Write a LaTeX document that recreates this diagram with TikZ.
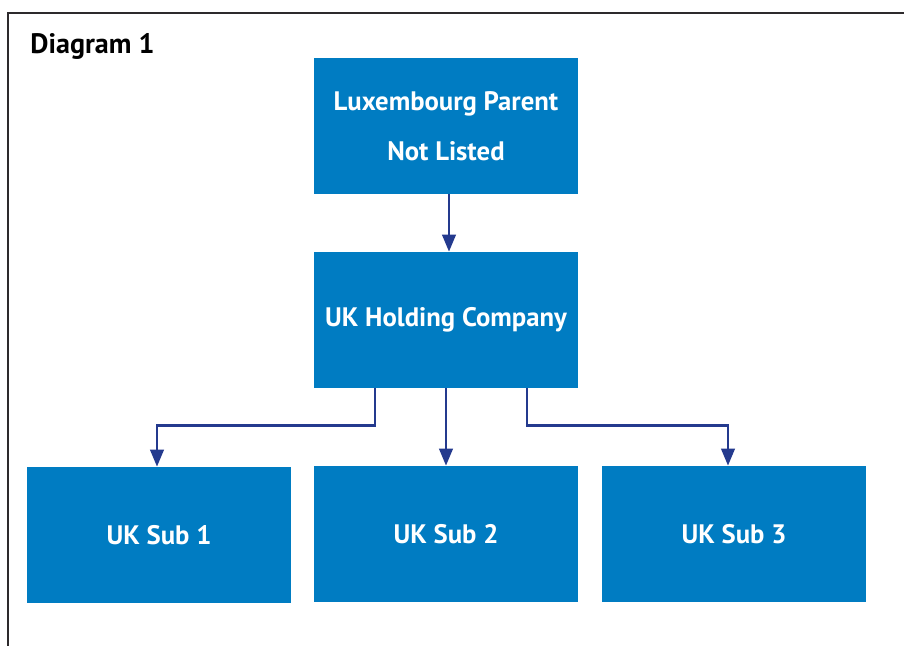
\documentclass[tikz,border=0pt]{standalone}
\usepackage{fontspec}
\setmainfont{PT Sans}
\usetikzlibrary{arrows.meta,positioning}
\definecolor{lxblue}{RGB}{0,124,194}
\definecolor{lxnavy}{RGB}{36,58,142}
\definecolor{lxframe}{RGB}{45,42,44}

\begin{document}
\begin{tikzpicture}[
    x=0.02cm,
    y=-0.02cm,
    >={Triangle[length=0.34cm,width=0.27cm]},
    entity/.style={
        fill=lxblue,
        minimum width=5.28cm,
        minimum height=2.72cm,
        align=center,
        text=white,
        font=\fontsize{15.2}{28.5}\selectfont\bfseries
    },
    link/.style={
        ->,
        lxnavy,
        line width=1.4pt
    }
]

\useasboundingbox (0,0) rectangle (904,646);

% Frame
\draw[lxframe, line width=1.1pt]
(8,646) -- (8,13) -- (904,13);

\node[
    anchor=base west,
    inner sep=0pt,
    font=\fontsize{16}{19}\selectfont\bfseries
] (title)
at (30,53)
{Diagram 1};

% Main boxes
\node[entity] (lux)
at (446,126)
{
Luxembourg Parent\\
Not Listed
};

\node[entity] (hold)
at (446,320)
{UK Holding Company};

\node[entity] (sub1)
at (159,535)
{UK Sub 1};

\node[entity] (sub2)
at (446,534)
{UK Sub 2};

\node[entity] (sub3)
at (734,534)
{UK Sub 3};

% Arrows
\draw[link]
([xshift=0.06cm]lux.south) -- ([xshift=0.06cm]hold.north);

\draw[link]
([xshift=-1.42cm]hold.south) -- ++(0,37) -| ([xshift=-0.04cm]sub1.north);

\draw[link]
(hold.south) -- (sub2.north);

\draw[link]
([xshift=1.62cm]hold.south) -- ++(0,37) -| ([xshift=-0.12cm]sub3.north);
\end{tikzpicture}
\end{document}
